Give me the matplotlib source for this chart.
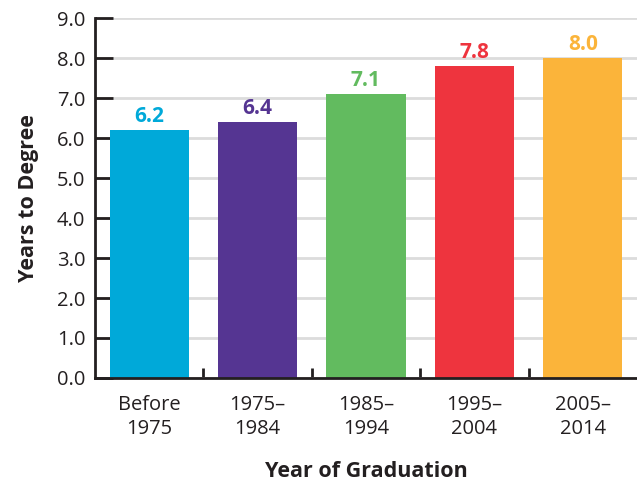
import matplotlib.pyplot as plt

# data
categories = ['Before\n1975', '1975–\n1984', '1985–\n1994', '1995–\n2004', '2005–\n2014']
years_to_degree = [6.2, 6.4, 7.1, 7.8, 8.0]
bar_colors = ['#00a9d9', '#553592', '#62bb5f', '#ee343e', '#fbb43a']
y_ticks = [0.0, 1.0, 2.0, 3.0, 4.0, 5.0, 6.0, 7.0, 8.0, 9.0]

plt.rcParams['font.family'] = ['Open Sans', 'DejaVu Sans']
text_color = '#231f20'

fig = plt.figure(figsize=(6.37, 4.83), dpi=100)
ax = fig.add_axes([0.149, 0.2174, 0.851, 0.7453])

x = list(range(len(categories)))
ax.bar(x, years_to_degree, width=0.73, color=bar_colors, zorder=3)

# value labels above bars
for xi, v, c in zip(x, years_to_degree, bar_colors):
    ax.annotate('{:.1f}'.format(v), (xi, v), xytext=(0, 2.5), textcoords='offset points',
                ha='center', va='bottom', fontsize=15, fontweight='bold', color=c)

ax.set_xlim(-0.5, 4.5)
ax.set_ylim(0, 9.0)
ax.set_yticks(y_ticks)
ax.set_yticklabels(['{:.1f}'.format(t) for t in y_ticks], fontsize=14.5, color=text_color)
ax.set_xticks(x)
ax.set_xticklabels(categories, fontsize=14.5, color=text_color, linespacing=1.3)
ax.set_xticks([0.5, 1.5, 2.5, 3.5], minor=True)

ax.tick_params(axis='y', direction='in', length=13, width=2, color=text_color, pad=7)
ax.tick_params(axis='x', which='major', length=0, pad=12)
ax.tick_params(axis='x', which='minor', direction='in', length=7, width=2, color=text_color)

ax.yaxis.grid(True, color='#dcdcdc', linewidth=2, zorder=0)
ax.set_axisbelow(True)

for side in ['top', 'right']:
    ax.spines[side].set_visible(False)
for side in ['left', 'bottom']:
    ax.spines[side].set_linewidth(2)
    ax.spines[side].set_color(text_color)
    ax.spines[side].set_zorder(4)

ax.set_ylabel('Years to Degree', fontsize=15.5, fontweight='bold', color=text_color, labelpad=13)
ax.set_xlabel('Year of Graduation', fontsize=15.5, fontweight='bold', color=text_color, labelpad=16)

fig.savefig('out.png', dpi=100)
